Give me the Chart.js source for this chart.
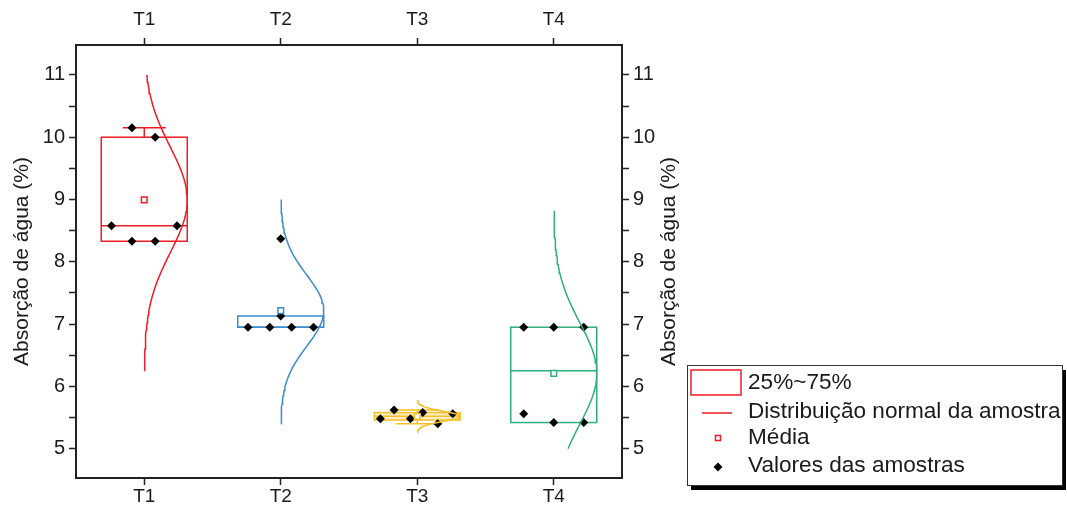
<!DOCTYPE html>
<html>
<head>
<meta charset="utf-8">
<script src="https://cdn.jsdelivr.net/npm/chart.js@4.4.1/dist/chart.umd.min.js"></script>
<style>
  html, body { margin: 0; background: #fff; }
  #wrap { width: 1067px; height: 512px; }
</style>
</head>
<body>
<div id="wrap"><canvas id="absorcao"></canvas></div>
<script>
var grupos = ['T1', 'T2', 'T3', 'T4'];

// valores das amostras (%)
var t1 = [10.15, 10.0, 8.58, 8.58, 8.33, 8.33];
var t2 = [8.37, 7.13, 6.95, 6.95, 6.95, 6.95];
var t3 = [5.48, 5.62, 5.48, 5.58, 5.40, 5.56];
var t4 = [6.95, 6.95, 6.95, 5.56, 5.42, 5.42];

// deslocamento horizontal de cada ponto dentro do grupo
var jitter = [
  [-0.09, 0.08, -0.24, 0.24, -0.09, 0.08],
  [0, 0, -0.24, -0.08, 0.08, 0.24],
  [-0.27, -0.17, -0.05, 0.04, 0.15, 0.26],
  [-0.22, 0, 0.22, -0.22, 0, 0.22]
];

// caixas 25%~75%
var q1 = [8.33, 6.95, 5.46, 5.42];
var mediana = [8.58, 6.95, 5.52, 6.25];
var q3 = [10.0, 7.13, 5.58, 6.95];
var bigodeMin = [8.33, 6.95, 5.40, 5.42];
var bigodeMax = [10.15, 7.13, 5.62, 6.95];

// faixa desenhada da curva normal
var curvaMin = [6.25, 5.4, 5.26, 5.0];
var curvaMax = [11.0, 9.0, 5.78, 8.82];

var yMarcas = [5, 6, 7, 8, 9, 10, 11];

var cores = ['#ee1c25', '#3b8bd0', '#f5bf2a', '#2fb07a'];
var amostras = [t1, t2, t3, t4];
var meia = 0.315;
var fonte = 'Liberation Sans, Arial, sans-serif';
var corTexto = '#1a1a1a';

function media(v) {
  return v.reduce(function (a, b) { return a + b; }, 0) / v.length;
}
function desvio(v) {
  var m = media(v);
  var s = v.reduce(function (a, b) { return a + (b - m) * (b - m); }, 0);
  return Math.sqrt(s / (v.length - 1));
}

var medias = amostras.map(media);

var datasets = [];

// distribuicao normal de cada amostra
amostras.forEach(function (v, i) {
  var m = medias[i], s = desvio(v), pts = [];
  var n = 80;
  for (var k = 0; k <= n; k++) {
    var y = curvaMin[i] + (curvaMax[i] - curvaMin[i]) * k / n;
    var z = (y - m) / s;
    pts.push({ x: i + meia * Math.exp(-0.5 * z * z), y: y });
  }
  datasets.push({
    type: 'line', data: pts, borderColor: cores[i], borderWidth: 1.5,
    pointRadius: 0, fill: false, tension: 0
  });
});

datasets.push({
  label: 'Média',
  data: medias.map(function (m, i) { return { x: i, y: m }; }),
  pointStyle: 'rect', pointRadius: 4, borderWidth: 1.5,
  pointBorderColor: cores, pointBackgroundColor: '#fff'
});

var pontos = [];
amostras.forEach(function (v, i) {
  v.forEach(function (y, k) { pontos.push({ x: i + jitter[i][k], y: y }); });
});
datasets.push({
  label: 'Valores das amostras',
  data: pontos, pointStyle: 'rectRot', pointRadius: 4.5,
  pointBackgroundColor: '#000', pointBorderColor: '#000', borderWidth: 0
});

// caixas e bigodes, desenhados pelas escalas do grafico
var caixas = {
  id: 'caixas',
  beforeDatasetsDraw: function (chart) {
    var c = chart.ctx, sx = chart.scales.x, sy = chart.scales.y;
    c.save();
    c.lineWidth = 1.5;
    grupos.forEach(function (g, i) {
      var xa = sx.getPixelForValue(i - meia), xb = sx.getPixelForValue(i + meia);
      var xm = sx.getPixelForValue(i);
      var ya = sy.getPixelForValue(q3[i]), yb = sy.getPixelForValue(q1[i]);
      c.strokeStyle = cores[i];
      if (i === 2) {
        c.fillStyle = 'rgba(245,191,42,0.3)';
        c.fillRect(xa, ya, xb - xa, yb - ya);
      }
      c.strokeRect(xa, ya, xb - xa, yb - ya);
      var ym = sy.getPixelForValue(mediana[i]);
      c.beginPath(); c.moveTo(xa, ym); c.lineTo(xb, ym); c.stroke();
      var cap = sx.getPixelForValue(i + meia / 2) - xm;
      [[bigodeMax[i], q3[i]], [bigodeMin[i], q1[i]]].forEach(function (b) {
        if (Math.abs(b[0] - b[1]) < 1e-6) return;
        var y0 = sy.getPixelForValue(b[0]), y1 = sy.getPixelForValue(b[1]);
        c.beginPath();
        c.moveTo(xm, y1); c.lineTo(xm, y0);
        c.moveTo(xm - cap, y0); c.lineTo(xm + cap, y0);
        c.stroke();
      });
    });
    c.restore();
  }
};

// titulo do eixo direito e legenda com sombra
var extras = {
  id: 'extras',
  afterDraw: function (chart) {
    var c = chart.ctx, a = chart.chartArea;
    c.save();
    c.fillStyle = corTexto;
    c.font = '21px ' + fonte;
    c.textAlign = 'center';
    c.textBaseline = 'middle';
    c.translate(669, (a.top + a.bottom) / 2);
    c.rotate(-Math.PI / 2);
    c.fillText('Absorção de água (%)', 0, 0);
    c.restore();

    var x = 687, y = 365, w = 375, h = 120;
    c.save();
    c.fillStyle = '#000';
    c.fillRect(x + 4, y + 5, w, h);
    c.fillStyle = '#fff';
    c.fillRect(x, y, w, h);
    c.strokeStyle = '#333';
    c.lineWidth = 1;
    c.strokeRect(x + 0.5, y + 0.5, w, h);

    c.strokeStyle = cores[0];
    c.lineWidth = 1.5;
    c.strokeRect(691, 370, 50, 25);
    c.beginPath(); c.moveTo(702, 413); c.lineTo(732, 413); c.stroke();
    c.strokeRect(715.5, 435.5, 5, 5);
    c.fillStyle = '#000';
    c.beginPath();
    c.moveTo(718, 462.5); c.lineTo(722.5, 467); c.lineTo(718, 471.5); c.lineTo(713.5, 467);
    c.closePath(); c.fill();

    c.fillStyle = corTexto;
    c.font = '22.6px ' + fonte;
    c.textAlign = 'left';
    c.textBaseline = 'middle';
    c.fillText('25%~75%', 748, 383);
    c.fillText('Distribuição normal da amostra', 748, 412);
    c.fillText('Média', 748, 438);
    c.fillText('Valores das amostras', 748, 466);
    c.restore();
  }
};

function eixoX(pos, altura, pad) {
  return {
    type: 'linear', position: pos, min: -0.5, max: 3.5,
    afterBuildTicks: function (s) { s.ticks = grupos.map(function (g, i) { return { value: i }; }); },
    afterFit: function (s) { s.height = altura; },
    ticks: { callback: function (v) { return grupos[v]; }, color: corTexto, font: { size: 19, family: fonte }, padding: pad, maxRotation: 0 },
    grid: { drawOnChartArea: false, tickLength: 7, tickColor: '#222', tickWidth: 1.5 },
    border: { color: '#222', width: 2 }
  };
}

function eixoY(pos, largura, titulo) {
  return {
    type: 'linear', position: pos, min: 4.53, max: 11.48,
    afterFit: function (s) { s.width = largura; },
    ticks: {
      stepSize: 0.5, includeBounds: false, autoSkip: false,
      callback: function (v) { return yMarcas.indexOf(v) >= 0 ? v : ''; },
      color: corTexto, font: { size: 20, family: fonte }, padding: 4
    },
    grid: { drawOnChartArea: false, tickLength: 7, tickColor: '#222', tickWidth: 1.5 },
    border: { color: '#222', width: 2 },
    title: titulo ? { display: true, text: 'Absorção de água (%)', color: corTexto, font: { size: 21, family: fonte }, padding: { top: 10, bottom: 0 } } : { display: false }
  };
}

var ctx = document.getElementById('absorcao');
var grafico = new Chart(ctx, {
  type: 'scatter',
  data: { datasets: datasets },
  options: {
    responsive: true,
    maintainAspectRatio: false,
    animation: false,
    layout: { padding: { right: 1067 - 622 - 60 } },
    plugins: { legend: { display: false }, tooltip: { enabled: false } },
    scales: {
      x: eixoX('bottom', 34, 0),
      x2: eixoX('top', 45, 7),
      y: eixoY('left', 76, true),
      y2: eixoY('right', 60, false)
    }
  },
  plugins: [caixas, extras]
});
</script>
</body>
</html>
